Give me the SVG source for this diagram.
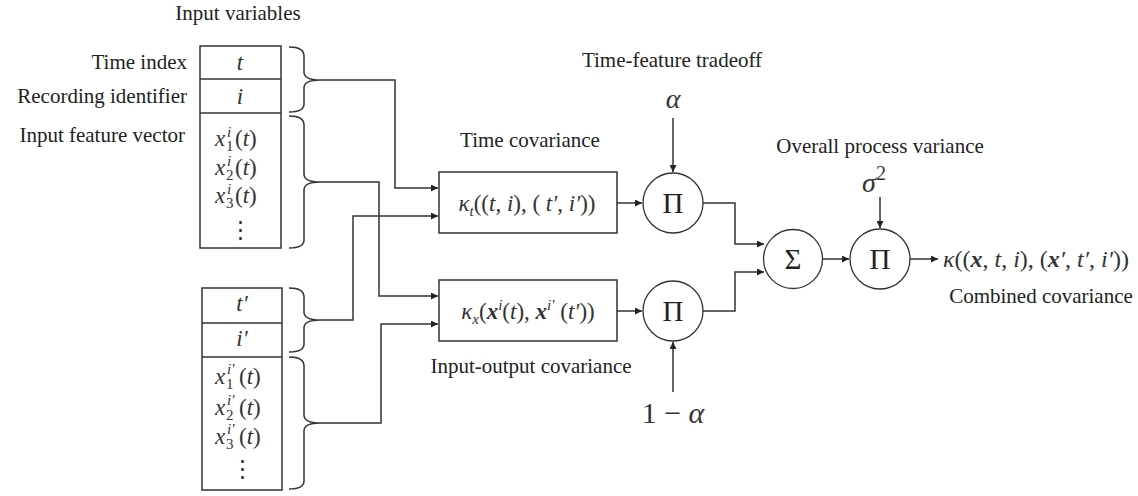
<svg xmlns="http://www.w3.org/2000/svg" width="1138" height="496" viewBox="0 0 1138 496">
<defs>
<marker id="ah" viewBox="0 0 10 10" refX="10" refY="5" markerWidth="8" markerHeight="7" markerUnits="userSpaceOnUse" orient="auto">
<path d="M0,0 L10,5 L0,10 z" fill="#222"/>
</marker>
<style>
.lbl{font-family:"Liberation Serif",serif;font-size:21px;fill:#222}
.m{font-family:"Liberation Serif",serif;font-style:italic;font-size:23px;fill:#333}
.mu{font-family:"Liberation Serif",serif;font-style:normal}
.s{font-size:15px}
.big{font-size:28px}
.box{fill:#fff;stroke:#333;stroke-width:1.5}
.c{fill:#fff;stroke:#333;stroke-width:1.3}
.op{font-family:"Liberation Serif",serif;font-size:29px;fill:#222}
.conn path,.conn line{fill:none;stroke:#333;stroke-width:1.5}
.arr{marker-end:url(#ah)}
.brace{fill:none;stroke:#333;stroke-width:1.5}
</style>
</defs>

<g id="labels">
<text class="lbl" x="238" y="20" text-anchor="middle">Input variables</text>
<text class="lbl" x="187" y="69" text-anchor="end">Time index</text>
<text class="lbl" x="187" y="103" text-anchor="end">Recording identifier</text>
<text class="lbl" x="185" y="142" text-anchor="end">Input feature vector</text>
<text class="lbl" x="672" y="67" text-anchor="middle">Time-feature tradeoff</text>
<text class="lbl" x="530" y="147" text-anchor="middle">Time covariance</text>
<text class="lbl" x="531" y="373" text-anchor="middle">Input-output covariance</text>
<text class="lbl" x="880" y="153" text-anchor="middle">Overall process variance</text>
<text class="lbl" x="1041" y="303" text-anchor="middle">Combined covariance</text>
</g>

<g id="input1">
<rect class="box" x="200" y="46" width="81" height="202"/>
<line class="box" x1="200" y1="79" x2="281" y2="79"/>
<line class="box" x1="200" y1="113" x2="281" y2="113"/>
<text class="m" x="240" y="70" text-anchor="middle">t</text>
<text class="m" x="240" y="104" text-anchor="middle">i</text>
<text class="m" x="215" y="146">x</text><text class="m s" x="227" y="137">i</text><text class="m s mu" x="226" y="151">1</text><text class="m" x="235" y="146"><tspan class="mu">(</tspan>t<tspan class="mu">)</tspan></text>
<text class="m" x="215" y="175">x</text><text class="m s" x="227" y="166">i</text><text class="m s mu" x="226" y="180">2</text><text class="m" x="235" y="175"><tspan class="mu">(</tspan>t<tspan class="mu">)</tspan></text>
<text class="m" x="215" y="203">x</text><text class="m s" x="227" y="194">i</text><text class="m s mu" x="226" y="208">3</text><text class="m" x="235" y="203"><tspan class="mu">(</tspan>t<tspan class="mu">)</tspan></text>
<text class="m mu" x="240" y="237" text-anchor="middle">⋮</text>
</g>

<g id="input2">
<rect class="box" x="202" y="288" width="80" height="202"/>
<line class="box" x1="202" y1="323" x2="282" y2="323"/>
<line class="box" x1="202" y1="357" x2="282" y2="357"/>
<text class="m" x="242" y="311" text-anchor="middle">t′</text>
<text class="m" x="242" y="346" text-anchor="middle">i′</text>
<text class="m" x="215" y="384">x</text><text class="m s" x="227" y="374">i′</text><text class="m s mu" x="226" y="389">1</text><text class="m" x="239" y="384"><tspan class="mu">(</tspan>t<tspan class="mu">)</tspan></text>
<text class="m" x="215" y="415">x</text><text class="m s" x="227" y="405">i′</text><text class="m s mu" x="226" y="420">2</text><text class="m" x="239" y="415"><tspan class="mu">(</tspan>t<tspan class="mu">)</tspan></text>
<text class="m" x="215" y="444">x</text><text class="m s" x="227" y="434">i′</text><text class="m s mu" x="226" y="449">3</text><text class="m" x="239" y="444"><tspan class="mu">(</tspan>t<tspan class="mu">)</tspan></text>
<text class="m mu" x="242" y="476" text-anchor="middle">⋮</text>
</g>

<g id="braces">
<path class="brace" d="M289,47 Q304,47 304,56 L304,72 Q304,80 320,80 Q304,80 304,88 L304,104 Q304,112 289,112"/>
<path class="brace" d="M289,116 Q304,116 304,125 L304,174 Q304,182 320,182 Q304,182 304,190 L304,240 Q304,248 289,248"/>
<path class="brace" d="M289,288 Q304,288 304,297 L304,312 Q304,320 320,320 Q304,320 304,328 L304,344 Q304,352 289,352"/>
<path class="brace" d="M289,357 Q304,357 304,366 L304,415 Q304,423 320,423 Q304,423 304,431 L304,481 Q304,489 289,489"/>
</g>

<g id="kt">
<rect class="box" x="439" y="172" width="178" height="61"/>
<text class="m" x="527" y="211" text-anchor="middle">κ<tspan class="s" dy="5">t</tspan><tspan dy="-5" class="mu">((</tspan>t<tspan class="mu">, </tspan>i<tspan class="mu">), ( </tspan>t′<tspan class="mu">, </tspan>i′<tspan class="mu">))</tspan></text>
</g>
<g id="kx">
<rect class="box" x="439" y="280" width="178" height="61"/>
<text class="m" x="528" y="319" text-anchor="middle">κ<tspan class="s" dy="5">x</tspan><tspan dy="-5" class="mu">(</tspan><tspan font-weight="bold">x</tspan><tspan class="s" dy="-9">i</tspan><tspan dy="9" class="mu">(</tspan>t<tspan class="mu">), </tspan><tspan font-weight="bold">x</tspan><tspan class="s" dy="-9">i′</tspan><tspan dy="9" class="mu"> (</tspan>t′<tspan class="mu">))</tspan></text>
</g>

<g id="prod1">
<circle class="c" cx="673" cy="203" r="30"/>
<text class="op" x="673" y="213" text-anchor="middle">Π</text>
</g>
<g id="prod2">
<circle class="c" cx="673" cy="311" r="30"/>
<text class="op" x="673" y="321" text-anchor="middle">Π</text>
</g>
<g id="sum">
<circle class="c" cx="793" cy="259" r="29.5"/>
<text class="op" x="793" y="269" text-anchor="middle">Σ</text>
</g>
<g id="prod3">
<circle class="c" cx="880" cy="259" r="30"/>
<text class="op" x="880" y="269" text-anchor="middle">Π</text>
</g>

<g id="alpha"><text class="m big" x="673" y="108" text-anchor="middle">α</text></g>
<g id="oneminusalpha"><text class="m big" x="673" y="423" text-anchor="middle" style="font-size:30px"><tspan class="mu">1 − </tspan>α</text></g>
<g id="sigma"><text class="m big" x="874" y="192" text-anchor="middle">σ<tspan class="mu" style="font-size:20px" dy="-12">2</tspan></text></g>
<g id="output"><text class="m" x="943" y="267" style="font-size:24px">κ<tspan class="mu">((</tspan><tspan font-weight="bold">x</tspan><tspan class="mu">, </tspan>t<tspan class="mu">, </tspan>i<tspan class="mu">), (</tspan><tspan font-weight="bold">x</tspan>′<tspan class="mu">, </tspan>t′<tspan class="mu">, </tspan>i′<tspan class="mu">))</tspan></text></g>

<g id="connectors" class="conn">
<path class="arr" d="M320,80 L395,80 L395,188 L438,188"/>
<path class="arr" d="M320,182 L379,182 L379,296 L438,296"/>
<path class="arr" d="M320,320 L353,320 L353,216 L438,216"/>
<path class="arr" d="M320,423 L381,423 L381,324 L438,324"/>
<path class="arr" d="M617,203 L642,203"/>
<path class="arr" d="M617,311 L642,311"/>
<path class="arr" d="M673,118 L673,172"/>
<path class="arr" d="M673,392 L673,342"/>
<path class="arr" d="M703,203 L735,203 L735,244 L764,244"/>
<path class="arr" d="M703,311 L735,311 L735,272 L764,272"/>
<path class="arr" d="M823,259 L849,259"/>
<path class="arr" d="M880,197 L880,228"/>
<path class="arr" d="M910,259 L938,259"/>
</g>
</svg>
